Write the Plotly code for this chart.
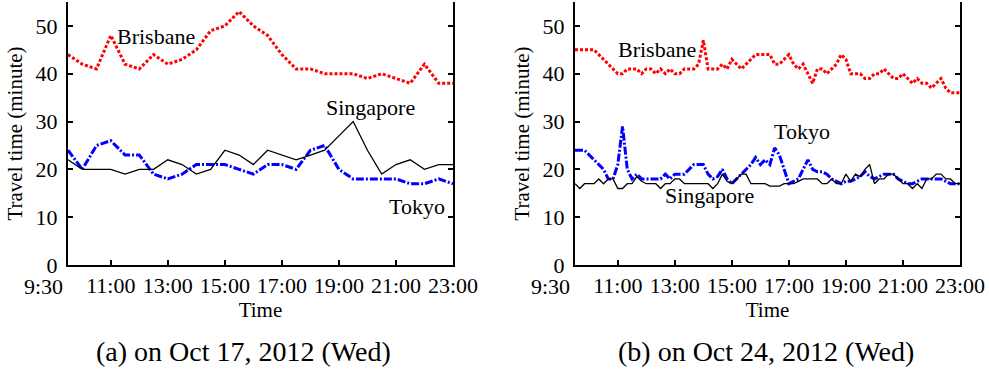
import plotly.graph_objects as go
from plotly.subplots import make_subplots

# ---------------- data ----------------
# (a) Oct 17, 2012 : samples every 30 minutes, 9:30 .. 23:00
times_a = [9.5 + 0.5 * k for k in range(28)]
brisbane_a = [44, 42, 41, 48, 42, 41, 44, 42, 43, 45, 49, 50, 53, 50, 48, 44,
              41, 41, 40, 40, 40, 39, 40, 39, 38, 42, 38, 38]
singapore_a = [22, 20, 20, 20, 19, 20, 20, 22, 21, 19, 20, 24, 23, 21, 24, 23,
               22, 23, 24, 27, 30, 24, 19, 21, 22, 20, 21, 21]
tokyo_a = [24, 20, 25, 26, 23, 23, 19, 18, 19, 21, 21, 21, 20, 19, 21, 21,
           20, 24, 25, 20, 18, 18, 18, 18, 17, 17, 18, 17]

# (b) Oct 24, 2012 : samples every 10 minutes, 9:30 .. 23:00
times_b = [9.5 + k / 6 for k in range(82)]
brisbane_b = [45, 45, 45, 45, 45, 44, 43, 42, 41, 40,
              40, 41, 41, 41, 40, 41, 41, 40, 41, 40,
              41, 40, 40, 41, 41, 41, 42, 47, 41, 41,
              41, 42, 41, 43, 42, 41, 42, 43, 44, 44,
              44, 44, 42, 42, 43, 44, 42, 41, 42, 40,
              38, 41, 41, 40, 41, 42, 44, 43, 40, 40,
              40, 39, 39, 40, 40, 41, 40, 39, 39, 40,
              39, 38, 39, 38, 38, 37, 38, 39, 37, 36,
              36, 36]
tokyo_b = [24, 24, 24, 23, 22, 21, 20, 18, 18, 21,
           29, 20, 18, 19, 18, 18, 18, 18, 18, 19,
           18, 19, 19, 19, 20, 21, 21, 21, 19, 18,
           18.5, 20, 18, 17, 18, 19, 20, 21, 22.5, 21,
           22, 21, 24.5, 23, 20, 17, 17.5, 18, 20, 22,
           20, 19.5, 19.5, 19, 18, 17.5, 17, 17.5, 17.5, 18,
           18.5, 19.5, 18.5, 18, 18.5, 19, 19, 19, 18, 17.5,
           17, 17, 17.5, 18, 18, 18, 18, 18, 17.5, 17,
           17, 17]
singapore_b = [17, 16, 17, 17, 17, 18, 17, 18, 18, 16,
               16, 17, 17, 18.5, 17.5, 17, 17, 17, 16, 17,
               17, 18, 18, 17, 17, 17, 17, 17, 17, 16,
               17, 19, 17.5, 17, 18, 19, 19, 17, 17, 17,
               17, 16.5, 16.5, 16.5, 17, 17, 17, 17.5, 18, 18,
               18, 18, 17, 17, 18, 17, 17, 19, 17.5, 19,
               18.5, 20, 21, 17, 18, 18, 19, 19, 18, 17,
               17, 16, 17, 16, 18, 18, 19, 19, 18, 18,
               17, 17]

first_tick = 9.5
first_tick_label = "9:30"
tick_vals = [9.5, 11, 13, 15, 17, 19, 21, 23]
tick_text = ["", "11:00", "13:00", "15:00", "17:00", "19:00", "21:00", "23:00"]
y_ticks = [0, 10, 20, 30, 40, 50]

FONT = "Liberation Serif"
RED = "#ff0000"
BLUE = "#0000ff"
BLACK = "#000000"

fig = make_subplots(rows=1, cols=2, horizontal_spacing=0.1368)

panels = [
    (1, times_a, brisbane_a, singapore_a, tokyo_a),
    (2, times_b, brisbane_b, singapore_b, tokyo_b),
]
for col, t, bri, sin, tok in panels:
    fig.add_trace(go.Scatter(x=t, y=bri, mode="lines", name="Brisbane",
                             line=dict(color=RED, width=3, dash="3px,2px")),
                  row=1, col=col)
    fig.add_trace(go.Scatter(x=t, y=tok, mode="lines", name="Tokyo",
                             line=dict(color=BLUE, width=3, dash="8px,2px,2px,2px")),
                  row=1, col=col)
    fig.add_trace(go.Scatter(x=t, y=sin, mode="lines", name="Singapore",
                             line=dict(color=BLACK, width=1.3)),
                  row=1, col=col)

axis_common = dict(showline=True, linecolor="black", linewidth=2,
                   ticks="inside", ticklen=5, tickwidth=2, tickcolor="black",
                   showgrid=False, zeroline=False,
                   tickfont=dict(family=FONT, size=22, color="black"))

for col in (1, 2):
    fig.update_xaxes(range=[9.5, 23], tickvals=tick_vals, ticktext=tick_text,
                     mirror=False,
                     title=dict(text="Time", font=dict(family=FONT, size=21, color="black"),
                                standoff=0),
                     row=1, col=col, **axis_common)
    fig.update_yaxes(range=[0, 55], tickvals=y_ticks, mirror="ticks",
                     ticklabelstandoff=4,
                     title=dict(text="Travel time (minute)",
                                font=dict(family=FONT, size=21, color="black"),
                                standoff=7),
                     row=1, col=col, **axis_common)

# first x tick label sits just left of the y axis
for xr in ("x", "x2"):
    fig.add_annotation(xref=xr, yref=xr.replace("x", "y") + " domain", x=first_tick, y=0,
                       text=first_tick_label, showarrow=False,
                       font=dict(family=FONT, size=22, color="black"),
                       xanchor="right", yanchor="middle", xshift=-3, yshift=-21)

ann_font = dict(family=FONT, size=22, color="black")
labels = [
    ("x", "y", 12.58, 47.7, "Brisbane"),
    ("x", "y", 20.1, 33.0, "Singapore"),
    ("x", "y", 21.75, 12.2, "Tokyo"),
    ("x2", "y2", 12.38, 45.0, "Brisbane"),
    ("x2", "y2", 17.47, 28.0, "Tokyo"),
    ("x2", "y2", 14.23, 14.6, "Singapore"),
]
for xr, yr, xv, yv, txt in labels:
    fig.add_annotation(xref=xr, yref=yr, x=xv, y=yv, text=txt, showarrow=False,
                       font=ann_font, xanchor="center", yanchor="middle")

cap_font = dict(family=FONT, size=28, color="black")
fig.add_annotation(xref="paper", yref="paper", x=0.197, y=-0.33,
                   text="(a) on Oct 17, 2012 (Wed)", showarrow=False,
                   font=cap_font, xanchor="center", yanchor="middle")
fig.add_annotation(xref="paper", yref="paper", x=0.782, y=-0.33,
                   text="(b) on Oct 24, 2012 (Wed)", showarrow=False,
                   font=cap_font, xanchor="center", yanchor="middle")

fig.update_layout(width=989, height=370, showlegend=False,
                  plot_bgcolor="white", paper_bgcolor="white",
                  margin=dict(l=68, r=29, t=2, b=105, autoexpand=False))

fig.write_html("out.html", config={"displayModeBar": False},
               post_script="document.body.style.margin='0';document.body.style.overflow='hidden';")
